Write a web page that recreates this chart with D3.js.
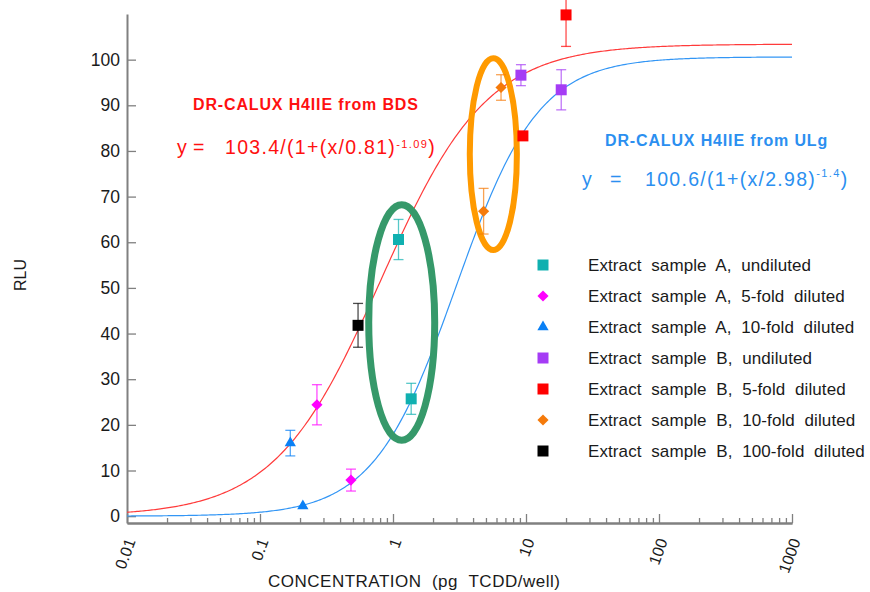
<!DOCTYPE html>
<html>
<head>
<meta charset="utf-8">
<script src="https://cdn.jsdelivr.net/npm/d3@7"></script>
<style>
  body { margin: 0; background: #fff; }
  text { font-family: "Liberation Sans", Arial, sans-serif; fill: #1a1a1a; }
</style>
</head>
<body>
<div id="chart"></div>
<script>
// Values

// sample series (x = concentration, y = RLU, err = +/- error bar)
var seriesLabels = [
    "Extract  sample  A,  undiluted",
    "Extract  sample  A,  5-fold  diluted",
    "Extract  sample  A,  10-fold  diluted",
    "Extract  sample  B,  undiluted",
    "Extract  sample  B,  5-fold  diluted",
    "Extract  sample  B,  10-fold  diluted",
    "Extract  sample  B,  100-fold  diluted"
];
var seriesShapes = ["square", "diamond", "triangle", "square", "square", "diamond", "square"];
var seriesColors = ["#10b0b0", "#ff00ff", "#0a80f5", "#a53cf5", "#ff0000", "#f57a0a", "#000000"];
var seriesX = [[1.10, 1.37], [0.268, 0.483], [0.169, 0.21], [9.16, 18.4], [20.0, 9.48], [6.49, 4.80], [0.546]];
var seriesY = [[60.6, 25.7], [24.4, 7.9], [16.0, 2.2], [96.6, 93.4], [109.8, 83.3], [93.9, 66.8], [41.8]];
var seriesErr = [[4.4, 3.4], [4.4, 2.4], [2.8, 0], [2.3, 4.4], [6.9, 0], [2.8, 5.0], [4.8]];

// fitted curves, parameters as printed on the chart
var fitTitles = ["DR-CALUX H4IIE from BDS", "DR-CALUX H4IIE from ULg"];
var fitTop = [103.4, 100.6];
var fitEC50 = [0.81, 2.98];
var fitSlope = [-1.09, -1.4];
var fitColors = ["#ff3b3b", "#3396f5"];
var fitTextColors = ["#ff1010", "#2b8ff0"];
var fitEquationMain = ["103.4/(1+(x/0.81)", "100.6/(1+(x/2.98)"];
var fitEquationExp = ["-1.09", "-1.4"];

// highlighted groups (ellipses): centre x, centre y, half width in decades, half height in RLU
var ellipseX = [1.163, 5.68];
var ellipseY = [42.4, 79.3];
var ellipseDecades = [0.248, 0.177];
var ellipseHalfY = [25.8, 21.0];
var ellipseColors = ["#36996a", "#ff9a00"];

// axis ticks
var xTickValues = [0.01, 0.1, 1, 10, 100, 1000];
var xTickLabels = ["0.01", "0.1", "1", "10", "100", "1000"];
var yTickValues = [0, 10, 20, 30, 40, 50, 60, 70, 80, 90, 100];

// Chart Params
var svgWidth = 870;
var svgHeight = 592;

var margin = {
    top: 14,
    right: 78,
    bottom: 69,
    left: 127
};

var chartWidth = svgWidth - margin.left - margin.right;
var chartHeight = svgHeight - margin.top - margin.bottom;

var svg = d3.select("#chart")
    .append("svg")
    .attr("width", svgWidth)
    .attr("height", svgHeight);

var chartGroup = svg.append("g")
    .attr("transform", `translate(${margin.left}, ${margin.top})`);

// scales
var xScale = d3.scaleLog()
    .domain([0.01, 1000])
    .range([0, chartWidth]);

var yScale = d3.scaleLinear()
    .domain([-1.5, 110])
    .range([chartHeight, 0]);

// minor ticks on the log axis
var minorTicks = xScale.ticks().filter(d => xTickValues.indexOf(d) < 0);
chartGroup.append("g")
    .attr("class", "minor")
    .attr("transform", `translate(0, ${chartHeight})`)
    .call(d3.axisBottom(xScale).tickValues(minorTicks).tickSizeInner(-5).tickSizeOuter(0).tickFormat(""));

// x axis
var xAxis = chartGroup.append("g")
    .attr("transform", `translate(0, ${chartHeight})`)
    .call(d3.axisBottom(xScale)
        .tickValues(xTickValues)
        .tickSizeInner(-9)
        .tickSizeOuter(0)
        .tickFormat((d, i) => xTickLabels[i]));

xAxis.selectAll("text")
    .attr("x", 0)
    .attr("y", 0)
    .attr("dy", "0.35em")
    .attr("text-anchor", "end")
    .attr("transform", "translate(3, 16) rotate(-70)")
    .style("font-size", "16px");

// y axis
var yAxis = chartGroup.append("g")
    .call(d3.axisLeft(yScale)
        .tickValues(yTickValues)
        .tickSizeInner(-9)
        .tickSizeOuter(0)
        .tickPadding(7));

yAxis.selectAll("text").style("font-size", "17.5px");

chartGroup.selectAll(".domain").attr("stroke", "#808080").attr("stroke-width", 2);
chartGroup.selectAll(".tick line").attr("stroke", "#808080").attr("stroke-width", 1.3);
chartGroup.selectAll(".tick text").attr("fill", "#1a1a1a");

// axis titles
svg.append("text")
    .attr("x", 268)
    .attr("y", 587)
    .style("font-size", "17px")
    .style("letter-spacing", "0.5px")
    .text("CONCENTRATION\u00a0\u00a0(pg\u00a0\u00a0TCDD/well)");

svg.append("text")
    .attr("transform", "translate(26, 275) rotate(-90)")
    .attr("text-anchor", "middle")
    .style("font-size", "16px")
    .text("RLU");

// fitted curves
var curveXs = d3.range(0, 401).map(i => Math.pow(10, -2 + i * 5 / 400));
var line = d3.line()
    .x(d => xScale(d[0]))
    .y(d => yScale(d[1]));

fitTop.forEach((top, k) => {
    var pts = curveXs.map(x => [x, top / (1 + Math.pow(x / fitEC50[k], fitSlope[k]))]);
    chartGroup.append("path")
        .datum(pts)
        .attr("d", line)
        .attr("fill", "none")
        .attr("stroke", fitColors[k])
        .attr("stroke-width", 1.2);
});

// ellipses
ellipseX.forEach((ex, k) => {
    var cx = xScale(ex);
    var rx = xScale(ex * Math.pow(10, ellipseDecades[k])) - cx;
    var cy = yScale(ellipseY[k]);
    var ry = yScale(0) - yScale(ellipseHalfY[k]);
    chartGroup.append("ellipse")
        .attr("cx", cx)
        .attr("cy", cy)
        .attr("rx", rx)
        .attr("ry", ry)
        .attr("fill", "none")
        .attr("stroke", ellipseColors[k])
        .attr("stroke-width", k === 0 ? 7 : 6);
});

// marker helper
function markerPath(shape) {
    if (shape === "triangle") return d3.symbol().type(d3.symbolTriangle).size(55)();
    if (shape === "diamond") return d3.symbol().type(d3.symbolSquare).size(62)();
    return d3.symbol().type(d3.symbolSquare).size(121)();
}
function markerRotate(shape) {
    return shape === "diamond" ? " rotate(45)" : "";
}

// error bars + points
seriesX.forEach((xs, s) => {
    var g = chartGroup.append("g");
    xs.forEach((x, i) => {
        var px = xScale(x);
        var err = seriesErr[s][i];
        if (err > 0) {
            var top = yScale(seriesY[s][i] + err);
            var bot = yScale(seriesY[s][i] - err);
            var eb = g.append("g")
                .attr("stroke", seriesColors[s])
                .attr("stroke-opacity", 0.7)
                .attr("stroke-width", 1.3);
            eb.append("line").attr("x1", px).attr("x2", px).attr("y1", top).attr("y2", bot);
            eb.append("line").attr("x1", px - 5).attr("x2", px + 5).attr("y1", top).attr("y2", top);
            eb.append("line").attr("x1", px - 5).attr("x2", px + 5).attr("y1", bot).attr("y2", bot);
        }
    });
    g.selectAll("path")
        .data(xs)
        .join("path")
        .attr("d", markerPath(seriesShapes[s]))
        .attr("transform", (d, i) => `translate(${xScale(d)}, ${yScale(seriesY[s][i])})` + markerRotate(seriesShapes[s]))
        .attr("fill", seriesColors[s]);
});

// fit titles and equations
var fitTitlePos = [[193, 110], [605, 146]];
var fitEqPos = [[177, 193, 225, 154, -6], [582, 610, 645, 186, -9]];

fitTitles.forEach((t, k) => {
    svg.append("text")
        .attr("x", fitTitlePos[k][0])
        .attr("y", fitTitlePos[k][1])
        .style("font-size", "16px")
        .style("font-weight", "bold")
        .style("letter-spacing", "0.85px")
        .style("fill", fitTextColors[k])
        .text(t);

    var p = fitEqPos[k];
    var eq = svg.append("text")
        .attr("y", p[3])
        .style("font-size", "19.5px")
        .style("fill", fitTextColors[k]);
    eq.append("tspan").attr("x", p[0]).text("y");
    eq.append("tspan").attr("x", p[1]).text("=");
    eq.append("tspan").attr("x", p[2]).style("letter-spacing", "1.3px").text(fitEquationMain[k]);
    eq.append("tspan")
        .attr("dy", p[4])
        .style("font-size", "11px")
        .style("letter-spacing", "1.4px")
        .text(fitEquationExp[k]);
    eq.append("tspan")
        .attr("dy", -p[4])
        .text(")");
});

// legend
var legend = svg.append("g")
    .attr("transform", "translate(543, 265)");

seriesLabels.forEach((label, s) => {
    var row = legend.append("g")
        .attr("transform", `translate(0, ${s * 31})`);
    row.append("path")
        .attr("d", markerPath(seriesShapes[s]))
        .attr("transform", "translate(0, 0)" + markerRotate(seriesShapes[s]))
        .attr("fill", seriesColors[s]);
    row.append("text")
        .attr("x", 45)
        .attr("y", 0)
        .attr("dy", "0.35em")
        .style("font-size", "17px")
        .style("letter-spacing", "0.1px")
        .style("white-space", "pre")
        .text(label);
});
</script>
</body>
</html>
